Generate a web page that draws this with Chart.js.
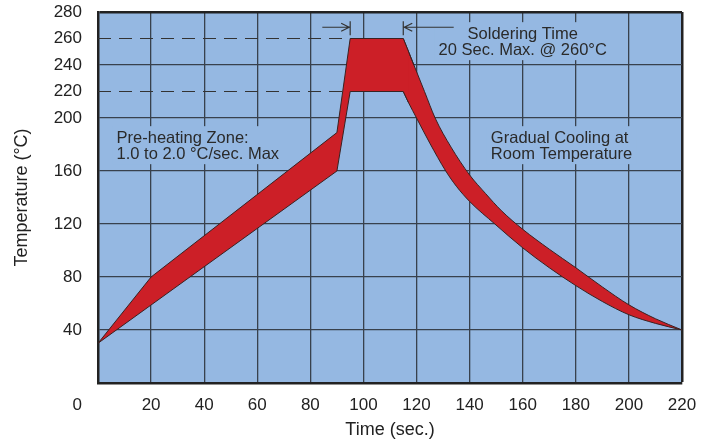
<!DOCTYPE html>
<html>
<head>
<meta charset="utf-8">
<script src="https://cdn.jsdelivr.net/npm/chart.js@4.4.1/dist/chart.umd.min.js"></script>
<style>
  html, body { margin: 0; padding: 0; background: #fff; }
  #wrap { position: relative; width: 712px; height: 443px; }
</style>
</head>
<body>
<div id="wrap"><canvas id="c"></canvas></div>
<script>
// Profil de refusion : bande min / max en temperature
// montee (segments droits) - prolongee d'un point pour recouvrir le raccord
const UPPER_RISE_X = [0, 20, 90, 95, 115, 119];
const UPPER_RISE_Y = [30, 80, 189, 260, 260, 240];
const LOWER_RISE_X = [0, 90, 95, 115, 117];
const LOWER_RISE_Y = [30, 160, 220, 220, 211.5];
// refroidissement (courbes)
const UPPER_COOL_X = [115, 119, 123, 127, 133, 140, 146, 152, 160, 170, 180, 190, 200, 210, 220];
const UPPER_COOL_Y = [260, 240, 220, 200, 178, 157, 143, 130, 116, 101, 87, 72.5, 59, 48.5, 40];
const LOWER_COOL_X = [115, 117, 120, 125, 131, 135, 140, 149.5, 160, 170, 180, 190, 200, 210, 220];
const LOWER_COOL_Y = [220, 211.5, 200, 181, 160, 148.5, 137, 120, 102, 87, 73.5, 61.5, 51.5, 45, 40];

// lignes pointillees de reference (260 / 220 °C)
const PEAK_LINE = { x: [0, 95], y: 260 };
const MIN_LINE = { x: [0, 94], y: 220 };

// axes
const X_MIN = 0, X_MAX = 220, X_STEP = 20;
const Y_TICKS = [0, 40, 80, 120, 160, 200, 220, 240, 260, 280];
const Y_NO_GRID = [0, 220, 260];

// textes
const PREHEAT_TEXT = ['Pre-heating Zone:', '1.0 to 2.0 °C/sec. Max'];
const SOLDER_TEXT = ['Soldering Time', '20 Sec. Max. @ 260°C'];
const COOLING_TEXT = ['Gradual Cooling at', 'Room Temperature'];
const SOLDER_SPAN = [95, 115];

const PLOT_BG = '#95b8e2';
const RED = '#cc1f27';
const INK = '#222';
const GRID = '#38414d';
const EDGE = '#3a2222';
const FONT = "'Liberation Sans', Arial, Helvetica, sans-serif";

const pts = (xs, ys) => xs.map((x, i) => ({ x, y: ys[i] }));
const flat = (line) => line.x.map(x => ({ x, y: line.y }));

const notes = [
  { lines: PREHEAT_TEXT, x: 7, y: 181, align: 'left' },
  { lines: SOLDER_TEXT, x: 160, y: 259.5, align: 'center' },
  { lines: COOLING_TEXT, x: 148, y: 181, align: 'left' }
];

const plotBg = {
  id: 'plotBg',
  beforeDraw(chart) {
    const { ctx, chartArea: a } = chart;
    ctx.save();
    ctx.fillStyle = PLOT_BG;
    ctx.fillRect(a.left, a.top, a.right - a.left, a.bottom - a.top);
    ctx.restore();
  }
};

const annotations = {
  id: 'annotations',
  beforeDatasetsDraw(chart) {
    const { ctx } = chart;
    const xs = chart.scales.x, ys = chart.scales.y;
    ctx.save();
    ctx.font = '16.5px ' + FONT;
    notes.forEach(n => {
      const px = xs.getPixelForValue(n.x), py = ys.getPixelForValue(n.y);
      const w = Math.max(...n.lines.map(l => ctx.measureText(l).width));
      const left = n.align === 'left' ? px : px - w / 2;
      ctx.fillStyle = PLOT_BG;
      ctx.fillRect(left - 4, py - 17, w + 8, n.lines.length * 16 + 6);
      ctx.fillStyle = '#2a2a2a';
      ctx.textAlign = n.align;
      ctx.textBaseline = 'alphabetic';
      n.lines.forEach((l, i) => ctx.fillText(l, px, py + i * 16));
    });
    ctx.restore();
  },
  afterDatasetsDraw(chart) {
    const { ctx } = chart;
    const xs = chart.scales.x, ys = chart.scales.y;
    const ay = ys.getPixelForValue(268.5);
    const x1 = xs.getPixelForValue(SOLDER_SPAN[0]);
    const x2 = xs.getPixelForValue(SOLDER_SPAN[1]);
    ctx.save();
    ctx.strokeStyle = '#333';
    ctx.lineWidth = 1.2;
    ctx.beginPath();
    // barres verticales
    [x1, x2].forEach(x => { ctx.moveTo(x, ay - 6); ctx.lineTo(x, ay + 8); });
    // fleche gauche -> |
    ctx.moveTo(xs.getPixelForValue(84.5), ay); ctx.lineTo(x1 - 1, ay);
    ctx.moveTo(x1 - 9, ay - 4); ctx.lineTo(x1 - 1, ay); ctx.lineTo(x1 - 9, ay + 4);
    // fleche | <- droite
    ctx.moveTo(xs.getPixelForValue(134), ay); ctx.lineTo(x2 + 1, ay);
    ctx.moveTo(x2 + 9, ay - 4); ctx.lineTo(x2 + 1, ay); ctx.lineTo(x2 + 9, ay + 4);
    ctx.stroke();
    // le "0" sous l'axe, aligne avec les graduations y
    ctx.font = '17px ' + FONT;
    ctx.fillStyle = INK;
    ctx.textAlign = 'right';
    ctx.textBaseline = 'middle';
    ctx.fillText('0', ys.right - 16, xs.top + 22);
    ctx.restore();
  }
};

const edge = (data, extra) => Object.assign({
  data,
  borderColor: EDGE,
  borderWidth: 1,
  pointRadius: 0,
  tension: 0,
  fill: false
}, extra);

new Chart(document.getElementById('c'), {
  type: 'line',
  data: {
    datasets: [
      edge(pts(LOWER_RISE_X, LOWER_RISE_Y), { label: 'min montee' }),
      edge(pts(UPPER_RISE_X, UPPER_RISE_Y), { label: 'max montee', backgroundColor: RED, fill: { target: 0 } }),
      edge(pts(LOWER_COOL_X, LOWER_COOL_Y), { label: 'min refroid.', cubicInterpolationMode: 'monotone' }),
      edge(pts(UPPER_COOL_X, UPPER_COOL_Y), { label: 'max refroid.', backgroundColor: RED, cubicInterpolationMode: 'monotone', fill: { target: 2 } }),
      {
        label: '260',
        data: flat(PEAK_LINE),
        borderColor: '#333',
        borderWidth: 1.2,
        borderDash: [13, 8],
        pointRadius: 0,
        fill: false
      },
      {
        label: '220',
        data: flat(MIN_LINE),
        borderColor: '#333',
        borderWidth: 1.2,
        borderDash: [13, 8],
        pointRadius: 0,
        fill: false
      }
    ]
  },
  options: {
    responsive: true,
    maintainAspectRatio: false,
    animation: false,
    layout: { padding: { top: 12, right: 30, left: 0, bottom: 0 } },
    plugins: { legend: { display: false }, tooltip: { enabled: false } },
    scales: {
      x: {
        type: 'linear',
        min: X_MIN,
        max: X_MAX,
        afterFit: s => { s.height = 60; },
        ticks: {
          stepSize: X_STEP,
          autoSkip: false,
          maxRotation: 0,
          padding: 12,
          color: INK,
          font: { family: FONT, size: 17 },
          callback: v => v === 0 ? '' : v
        },
        grid: {
          drawTicks: false,
          color: c => c.tick.value === X_MAX ? '#222' : (c.tick.value === X_MIN ? 'transparent' : GRID),
          lineWidth: c => c.tick.value === X_MAX ? 2.5 : 1.3
        },
        border: { display: true, color: '#222', width: 2.5 },
        title: {
          display: true,
          text: 'Time (sec.)',
          color: INK,
          font: { family: FONT, size: 18 },
          padding: { top: 0, bottom: 2 }
        }
      },
      y: {
        min: 0,
        max: 280,
        afterFit: s => { s.width = 98; s.paddingTop = 0; s.paddingBottom = 0; },
        afterBuildTicks: axis => { axis.ticks = Y_TICKS.map(v => ({ value: v })); },
        ticks: {
          autoSkip: false,
          padding: 16,
          color: INK,
          font: { family: FONT, size: 17 },
          callback: v => v === 0 ? '' : v
        },
        grid: {
          drawTicks: false,
          color: c => c.tick.value === 280 ? '#222' : (Y_NO_GRID.includes(c.tick.value) ? 'transparent' : GRID),
          lineWidth: c => c.tick.value === 280 ? 2.5 : 1.3
        },
        border: { display: true, color: '#222', width: 2.5 },
        title: {
          display: true,
          text: 'Temperature (°C)',
          color: INK,
          font: { family: FONT, size: 18 },
          padding: { top: 11, bottom: 0 }
        }
      }
    }
  },
  plugins: [plotBg, annotations]
});
</script>
</body>
</html>
